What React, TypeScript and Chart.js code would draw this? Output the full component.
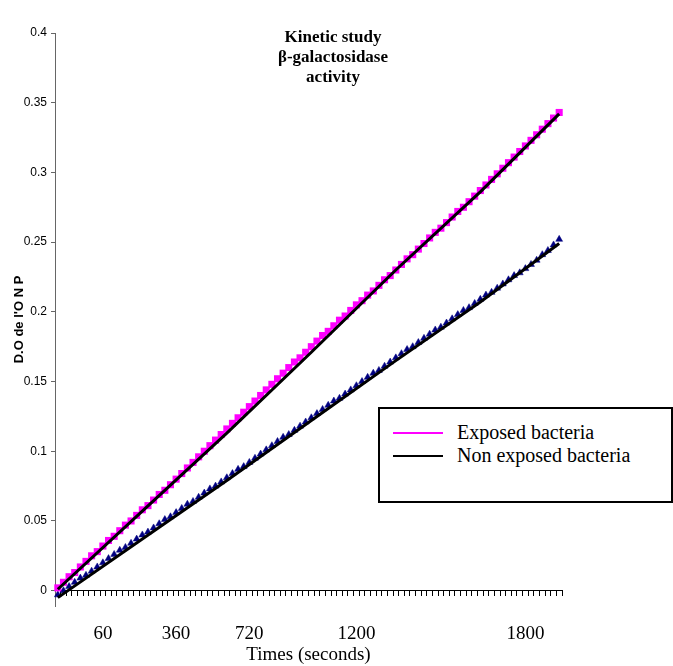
import React, { useEffect, useRef } from 'react';
import { Chart, registerables } from 'chart.js';

Chart.register(...registerables);

const TITLE_LINES = ['Kinetic study', 'β-galactosidase', 'activity'];
const SERIES_NAMES = ['Exposed bacteria', 'Non exposed bacteria'];
const X_TITLE = 'Times (seconds)';
const Y_TITLE = "D.O de l'O N P";

const EXPOSED = [
  0.002, 0.006, 0.010, 0.013, 0.017, 0.021, 0.025, 0.028, 0.032, 0.036,
  0.039, 0.043, 0.047, 0.050, 0.054, 0.058, 0.061, 0.065, 0.069, 0.072,
  0.076, 0.080, 0.084, 0.088, 0.092, 0.096, 0.100, 0.104, 0.108, 0.112,
  0.116, 0.120, 0.124, 0.128, 0.132, 0.136, 0.140, 0.144, 0.148, 0.152,
  0.156, 0.160, 0.164, 0.167, 0.171, 0.175, 0.179, 0.183, 0.186, 0.190,
  0.194, 0.197, 0.201, 0.205, 0.208, 0.212, 0.215, 0.219, 0.223, 0.226,
  0.230, 0.234, 0.238, 0.241, 0.245, 0.249, 0.253, 0.257, 0.260, 0.264,
  0.268, 0.272, 0.275, 0.279, 0.283, 0.287, 0.291, 0.295, 0.299, 0.303,
  0.307, 0.311, 0.315, 0.319, 0.323, 0.327, 0.331, 0.335, 0.339, 0.343,
];

const NON_EXPOSED = [
  -0.003, 0.000, 0.003, 0.006, 0.009, 0.011, 0.014, 0.017, 0.020, 0.023,
  0.026, 0.029, 0.031, 0.034, 0.037, 0.040, 0.042, 0.045, 0.048, 0.051,
  0.053, 0.056, 0.059, 0.062, 0.064, 0.067, 0.070, 0.073, 0.075, 0.078,
  0.081, 0.084, 0.087, 0.089, 0.092, 0.095, 0.098, 0.101, 0.104, 0.107,
  0.110, 0.112, 0.115, 0.118, 0.121, 0.124, 0.127, 0.130, 0.133, 0.136,
  0.138, 0.141, 0.144, 0.147, 0.150, 0.153, 0.156, 0.158, 0.161, 0.164,
  0.167, 0.170, 0.173, 0.175, 0.178, 0.181, 0.184, 0.187, 0.189, 0.192,
  0.195, 0.198, 0.201, 0.203, 0.206, 0.209, 0.212, 0.214, 0.217, 0.220,
  0.223, 0.226, 0.228, 0.231, 0.234, 0.237, 0.241, 0.244, 0.248, 0.252,
];

const TREND_INDEX = [0, 15, 30, 45, 60, 75, 89];
const EXPOSED_TREND = [0.001, 0.057, 0.113, 0.171, 0.230, 0.286, 0.342];
const NON_EXPOSED_TREND = [-0.005, 0.037, 0.079, 0.122, 0.165, 0.207, 0.249];

const X_TICK_INDEX = [8, 21, 34, 53, 83];
const X_TICK_LABELS = ['60', '360', '720', '1200', '1800'];

const Y_TICKS = [0, 0.05, 0.1, 0.15, 0.2, 0.25, 0.3, 0.35, 0.4];
const Y_TICK_LABELS = ['0', '0.05', '0.1', '0.15', '0.2', '0.25', '0.3', '0.35', '0.4'];

const COLORS = { exposed: '#FF00FF', nonExposed: '#000080', trend: '#000000' };
const LEGEND_COLORS = ['#FF00FF', '#000000'];

const CATEGORIES = EXPOSED.map((_, i) => String(i));

function sparse(idx: number[], vals: number[]): (number | null)[] {
  const out: (number | null)[] = CATEGORIES.map(() => null);
  idx.forEach((k, j) => { out[k] = vals[j]; });
  return out;
}

const titlePlugin = {
  id: 'innerTitle',
  afterDraw(chart: any) {
    const ctx = chart.ctx;
    ctx.save();
    ctx.font = 'bold 17px "Liberation Serif", serif';
    ctx.fillStyle = '#000';
    ctx.textAlign = 'center';
    ctx.textBaseline = 'middle';
    TITLE_LINES.forEach((t, i) => ctx.fillText(t, 333, 38 + i * 20));
    ctx.restore();
  },
};

export default function App() {
  const ref = useRef<HTMLCanvasElement | null>(null);

  useEffect(() => {
    if (!ref.current) return;
    const chart = new Chart(ref.current, {
      type: 'line',
      data: {
        labels: CATEGORIES,
        datasets: [
          {
            label: SERIES_NAMES[0] + ' trend',
            data: sparse(TREND_INDEX, EXPOSED_TREND),
            borderColor: COLORS.trend,
            borderWidth: 3,
            pointRadius: 0,
            spanGaps: true,
            fill: false,
          },
          {
            label: SERIES_NAMES[1] + ' trend',
            data: sparse(TREND_INDEX, NON_EXPOSED_TREND),
            borderColor: COLORS.trend,
            borderWidth: 3,
            pointRadius: 0,
            spanGaps: true,
            fill: false,
          },
          {
            label: SERIES_NAMES[0],
            data: EXPOSED,
            showLine: false,
            pointStyle: 'rect',
            pointRadius: 5,
            pointBackgroundColor: COLORS.exposed,
            pointBorderColor: COLORS.exposed,
            pointBorderWidth: 0,
          },
          {
            label: SERIES_NAMES[1],
            data: NON_EXPOSED,
            showLine: false,
            pointStyle: 'triangle',
            pointRadius: 4,
            pointBackgroundColor: COLORS.nonExposed,
            pointBorderColor: COLORS.nonExposed,
            pointBorderWidth: 0.5,
          },
        ],
      },
      options: {
        responsive: false,
        animation: false,
        layout: { padding: { top: 33, right: 111, left: 0, bottom: 60 } },
        plugins: {
          legend: { display: false },
          title: { display: false },
          tooltip: { enabled: false },
        },
        scales: {
          x: {
            type: 'category',
            position: { y: 0 } as any,
            offset: true,
            grid: {
              drawOnChartArea: false,
              drawTicks: true,
              tickLength: 5,
              color: '#000',
              offset: true,
            },
            border: { display: true, color: '#000', width: 1 },
            ticks: {
              autoSkip: false,
              maxRotation: 0,
              minRotation: 0,
              padding: 27,
              color: '#000',
              font: { family: '"Liberation Serif", serif', size: 19 },
              callback: (_v: any, i: number) => {
                const k = X_TICK_INDEX.indexOf(i);
                return k >= 0 ? X_TICK_LABELS[k] : '';
              },
            },
            title: {
              display: true,
              text: X_TITLE,
              color: '#000',
              font: { family: '"Liberation Serif", serif', size: 19 },
              padding: { top: 0, bottom: -17 },
            },
            afterFit: (s: any) => { s.height = 59; },
          },
          y: {
            type: 'linear',
            position: 'left',
            min: -0.011,
            max: 0.4,
            grid: {
              drawOnChartArea: false,
              drawTicks: true,
              tickLength: 4,
              color: '#666',
            },
            border: { display: true, color: '#666', width: 1 },
            afterBuildTicks: (s: any) => { s.ticks = Y_TICKS.map((v) => ({ value: v })); },
            ticks: {
              padding: 4,
              color: '#000',
              font: { family: '"Liberation Sans Narrow", "Liberation Sans", sans-serif', size: 12 },
              callback: (v: any) => {
                const k = Y_TICKS.findIndex((t) => Math.abs(t - Number(v)) < 1e-9);
                return k >= 0 ? Y_TICK_LABELS[k] : '';
              },
            },
            title: {
              display: true,
              text: Y_TITLE,
              color: '#000',
              font: { family: '"Liberation Sans Narrow", "Liberation Sans", sans-serif', size: 13, weight: 'bold' },
              padding: { top: 12, bottom: 0 },
            },
            afterFit: (s: any) => { s.width = 55; },
          },
        },
      },
      plugins: [titlePlugin],
    });
    return () => chart.destroy();
  }, []);

  return (
    <div style={{ position: 'absolute', left: 0, top: 0, width: 673, height: 666, background: '#fff' }}>
      <canvas ref={ref} width={673} height={666} style={{ display: 'block' }} />
      <div
        style={{
          position: 'absolute',
          left: 378,
          top: 407,
          width: 295,
          height: 96,
          boxSizing: 'border-box',
          border: '2px solid #000',
          padding: '12px 0 0 13px',
          fontFamily: '"Liberation Serif", serif',
          fontSize: 20,
          color: '#000',
          background: '#fff',
        }}
      >
        {SERIES_NAMES.map((name, i) => (
          <div key={name} style={{ display: 'flex', alignItems: 'center', height: 23 }}>
            <span style={{ display: 'inline-block', width: 50, height: 2, background: LEGEND_COLORS[i], marginRight: 14 }} />
            <span style={{ whiteSpace: 'nowrap', lineHeight: '23px' }}>{name}</span>
          </div>
        ))}
      </div>
    </div>
  );
}
